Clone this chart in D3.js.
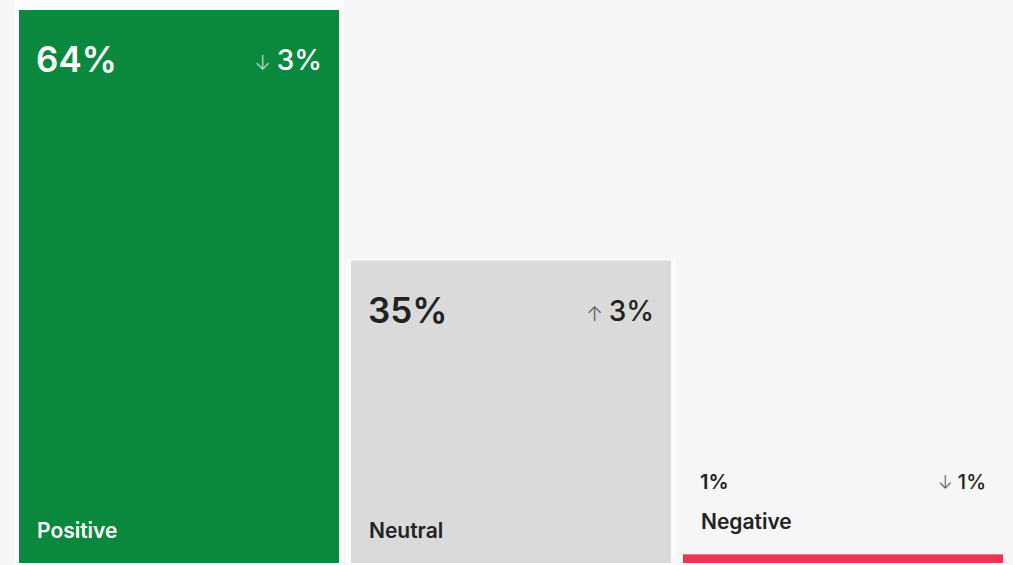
<!DOCTYPE html>
<html>
<head>
<meta charset="utf-8">
<script src="https://cdn.jsdelivr.net/npm/d3@7/dist/d3.min.js"></script>
<style>
  html, body { margin: 0; padding: 0; background: #f6f6f6; }
  svg { display: block; }
  text { font-family: Inter, "Open Sans", sans-serif; }
</style>
</head>
<body>
<svg id="chart" width="1013" height="565"></svg>
<script>
const categories = ["Positive", "Neutral", "Negative"];
const shares = [64, 35, 1];
const changes = [-3, 3, -1];
const colors = ["#0a893e", "#dadada", "#f03352"];
const textColors = ["#ffffff", "#222222", "#222222"];

const W = 1013, H = 565;
const svg = d3.select("#chart");

const x = d3.scaleBand().domain(categories).range([19, 1003]).paddingInner(0.036);
const y = d3.scaleLinear().domain([0, d3.max(shares)]).range([563, 10]);

const data = categories.map((c, i) => ({ c, v: shares[i], d: changes[i], col: colors[i], tc: textColors[i] }));

// soft white gutters beside the columns
svg.selectAll("rect.gutter").data(data.filter(d => (y(0) - y(d.v)) >= 100)).join("rect")
  .attr("class", "gutter")
  .attr("x", d => x(d.c) - 5)
  .attr("y", d => d.c === categories[0] ? 0 : y(d.v) - 2)
  .attr("width", x.bandwidth() + 10)
  .attr("height", d => H - (d.c === categories[0] ? 0 : y(d.v) - 2))
  .attr("fill", "#fcfcfc");

svg.selectAll("rect.bar").data(data).join("rect")
  .attr("class", "bar")
  .attr("x", d => x(d.c))
  .attr("y", d => y(d.v))
  .attr("width", x.bandwidth())
  .attr("height", d => y(0) - y(d.v))
  .attr("fill", d => d.col);

const g = svg.selectAll("g.lab").data(data).join("g").attr("class", "lab");

g.each(function(d) {
  const sel = d3.select(this);
  const x0 = x(d.c) + 17;
  const x1 = x(d.c) + x.bandwidth() - 17;
  const small = (y(0) - y(d.v)) < 100;
  const big = !small;
  const fill = small ? "#222222" : d.tc;
  const valBase = small ? y(d.v) - 65 : y(d.v) + 62;
  const catBase = small ? y(d.v) - 25 : y(0) - 25;
  const arrow = d.d < 0 ? "↓" : "↑";

  sel.append("text")
    .attr("x", x0).attr("y", valBase)
    .attr("fill", fill)
    .attr("font-size", big ? 35 : 20)
    .attr("font-weight", 600)
    .text(d.v + "%");

  const ch = sel.append("text")
    .attr("x", x1).attr("y", valBase - (big ? 2 : 0))
    .attr("text-anchor", "end")
    .attr("fill", fill)
    .attr("font-weight", 500);
  ch.append("tspan")
    .attr("font-size", big ? 20 : 18)
    .attr("font-weight", 300)
    .attr("opacity", 0.7)
    .text(arrow + " ");
  ch.append("tspan")
    .attr("font-size", big ? 28 : 20)
    .text(Math.abs(d.d) + "%");

  sel.append("text")
    .attr("x", x0 + 1).attr("y", catBase)
    .attr("fill", fill)
    .attr("font-size", 21)
    .attr("font-weight", 600)
    .text(d.c);
});
</script>
</body>
</html>
